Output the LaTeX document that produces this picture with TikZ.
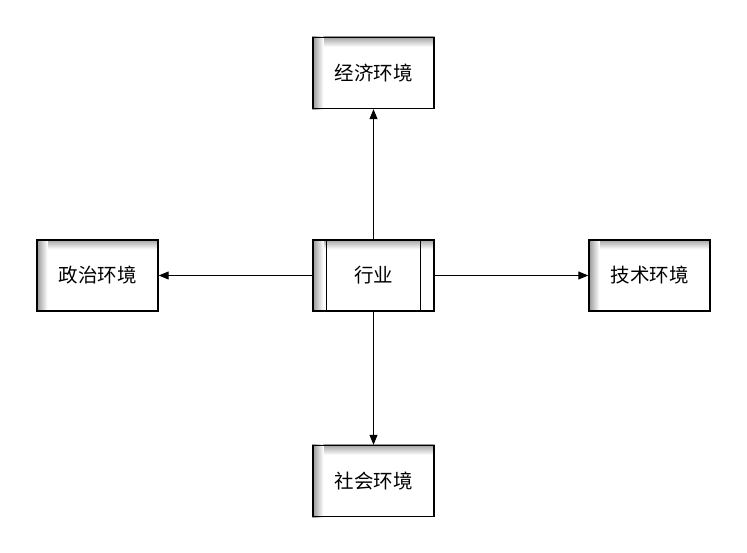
\documentclass[tikz,border=0pt]{standalone}
\usepackage{fontspec}
\setmainfont{Noto Sans CJK SC}
\usetikzlibrary{arrows.meta}
\tikzset{
  envbox/.style={draw=black, line width=1.4pt, minimum width=121pt, minimum height=71pt, inner sep=0pt, font=\fontsize{19.5}{22}\selectfont, fill=white},
  conn/.style={line width=1pt, -{Triangle[width=8pt,length=10pt]}}
}
\newcommand{\boxshade}[1]{%
  \shade[top color=gray!75, bottom color=white] (#1.north west) rectangle ([yshift=-10pt]#1.north east);
  \shade[left color=gray!85, right color=white] (#1.north west) rectangle ([xshift=11pt]#1.south west);
}
\begin{document}
\begin{tikzpicture}[x=1pt,y=1pt]
\useasboundingbox[fill=white] (0,0) rectangle (747,553);
\node[envbox] (eco) at (373.5,480) {};
\node[envbox] (ind) at (373.5,277.5) {};
\node[envbox] (pol) at (97.5,277.5) {};
\node[envbox] (tec) at (649.5,277.5) {};
\node[envbox] (soc) at (373.5,72) {};
\foreach \n in {eco,pol,tec,soc,ind}{\boxshade{\n}}
\node[envbox, fill=none] at (eco) {经济环境};
\node[envbox, fill=none] at (pol) {政治环境};
\node[envbox, fill=none] at (tec) {技术环境};
\node[envbox, fill=none] at (soc) {社会环境};
\node[envbox, fill=none] at (ind) {行业};
\draw[line width=1.2pt] ([xshift=14pt]ind.north west) -- ([xshift=14pt]ind.south west);
\draw[line width=1.2pt] ([xshift=-14pt]ind.north east) -- ([xshift=-14pt]ind.south east);
\draw[conn] (ind) -- (eco);
\draw[conn] (ind) -- (pol);
\draw[conn] (ind) -- (tec);
\draw[conn] (ind) -- (soc);
\end{tikzpicture}
\end{document}
